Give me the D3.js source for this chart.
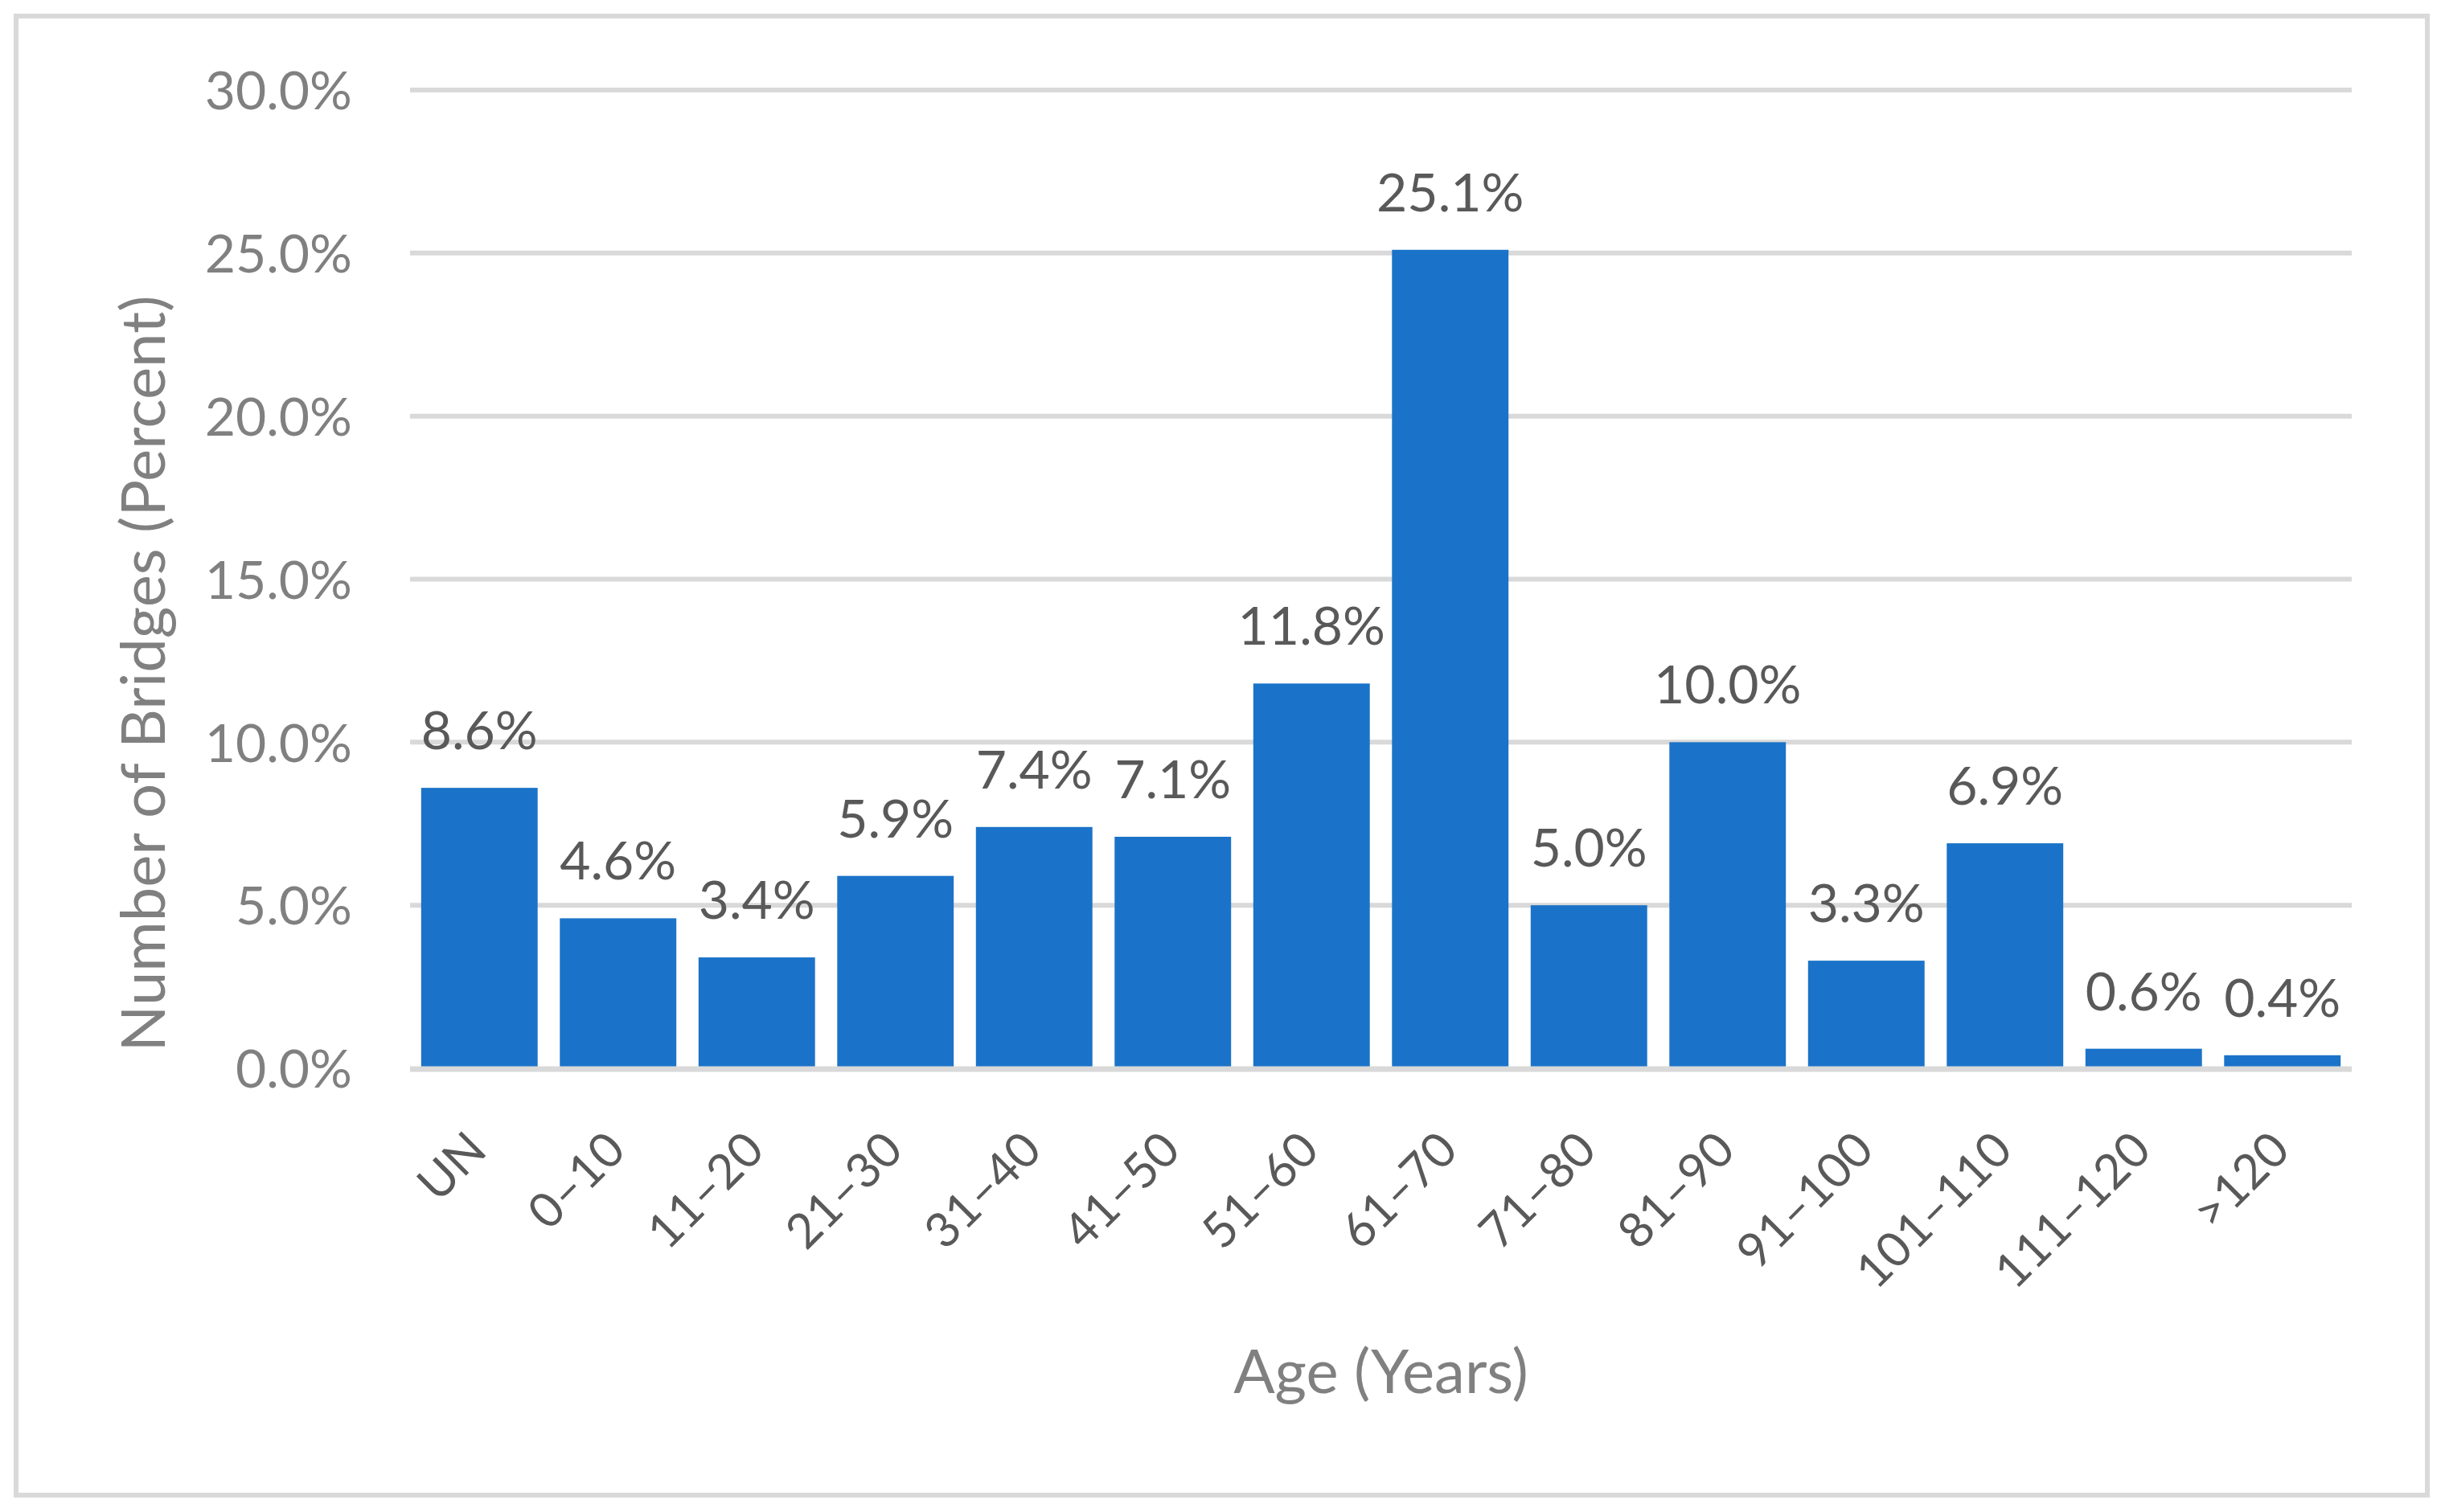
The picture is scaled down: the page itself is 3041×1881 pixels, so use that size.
<!DOCTYPE html>
<html>
<head>
<meta charset="utf-8">
<script src="https://cdn.jsdelivr.net/npm/d3@7"></script>
<style>
  html, body { margin: 0; padding: 0; background: #ffffff; }
  svg { display: block; }
  text { font-family: Lato, "Open Sans", sans-serif; }
</style>
</head>
<body>
<svg id="chart" width="3041" height="1881"></svg>
<script>
// ---- data ----
const categories = ["UN", "0–10", "11–20", "21–30", "31–40", "41–50", "51–60", "61–70", "71–80", "81–90", "91–100", "101–110", "111–120", ">120"];
const percentValues = [8.6, 4.6, 3.4, 5.9, 7.4, 7.1, 11.8, 25.1, 5.0, 10.0, 3.3, 6.9, 0.6, 0.4];
const yTickValues = [0, 5, 10, 15, 20, 25, 30];
const xAxisTitle = "Age (Years)";
const yAxisTitle = "Number of Bridges (Percent)";

// ---- layout ----
const W = 3041, H = 1881;
const plot = { left: 510, right: 2925, top: 112, bottom: 1329 };

const svg = d3.select("#chart");

svg.append("rect")
  .attr("x", 0).attr("y", 0).attr("width", W).attr("height", H)
  .attr("fill", "#ffffff");

// outer border
svg.append("rect")
  .attr("x", 20).attr("y", 20).attr("width", 2999).attr("height", 1840)
  .attr("fill", "none").attr("stroke", "#d9d9d9").attr("stroke-width", 6);

const x = d3.scaleBand()
  .domain(categories)
  .range([plot.left, plot.right])
  .paddingInner(0.16)
  .paddingOuter(0.08);

const y = d3.scaleLinear()
  .domain([0, 30])
  .range([plot.bottom, plot.top]);

// gridlines (excluding baseline)
svg.append("g").selectAll("line")
  .data(yTickValues.filter(d => d !== 0))
  .join("line")
  .attr("x1", plot.left).attr("x2", plot.right)
  .attr("y1", d => y(d)).attr("y2", d => y(d))
  .attr("stroke", "#d9d9d9").attr("stroke-width", 6);

// y axis labels via d3 axis
const yAxis = d3.axisLeft(y)
  .tickValues(yTickValues)
  .tickFormat(d => d.toFixed(1) + "%")
  .tickSize(0)
  .tickPadding(72);
const yg = svg.append("g")
  .attr("transform", `translate(${plot.left},0)`)
  .call(yAxis);
yg.select(".domain").remove();
yg.selectAll("text")
  .attr("font-family", "Lato, sans-serif")
  .attr("font-size", 66)
  .attr("fill", "#808080")
  .attr("dy", "0.36em");

// bars
svg.append("g").selectAll("rect")
  .data(categories)
  .join("rect")
  .attr("x", d => x(d))
  .attr("width", x.bandwidth())
  .attr("y", (d, i) => y(percentValues[i]))
  .attr("height", (d, i) => y(0) - y(percentValues[i]))
  .attr("fill", "#1a73c8");

// baseline axis line
svg.append("line")
  .attr("x1", plot.left).attr("x2", plot.right)
  .attr("y1", y(0) + 1).attr("y2", y(0) + 1)
  .attr("stroke", "#d9d9d9").attr("stroke-width", 7);

// data labels
svg.append("g").selectAll("text")
  .data(categories)
  .join("text")
  .attr("x", d => x(d) + x.bandwidth() / 2)
  .attr("y", (d, i) => y(percentValues[i]) - 48)
  .attr("text-anchor", "middle")
  .attr("font-size", 66)
  .attr("fill", "#595959")
  .text((d, i) => percentValues[i].toFixed(1) + "%");

// x axis labels (rotated)
const xAxis = d3.axisBottom(x).tickSize(0).tickPadding(0);
const xg = svg.append("g")
  .attr("transform", `translate(0,${plot.bottom})`)
  .call(xAxis);
xg.select(".domain").remove();
xg.selectAll(".tick text")
  .attr("font-family", "Lato, sans-serif")
  .attr("font-size", 60)
  .attr("fill", "#595959")
  .attr("text-anchor", "end")
  .attr("dy", null)
  .attr("y", 0)
  .attr("transform", "translate(12,105) rotate(-45)");

// axis titles
svg.append("text")
  .attr("x", (plot.left + plot.right) / 2)
  .attr("y", 1733)
  .attr("text-anchor", "middle")
  .attr("font-size", 76)
  .attr("fill", "#808080")
  .text(xAxisTitle);

svg.append("text")
  .attr("transform", "translate(205,838) rotate(-90)")
  .attr("text-anchor", "middle")
  .attr("font-size", 76)
  .attr("fill", "#808080")
  .text(yAxisTitle);
</script>
</body>
</html>
